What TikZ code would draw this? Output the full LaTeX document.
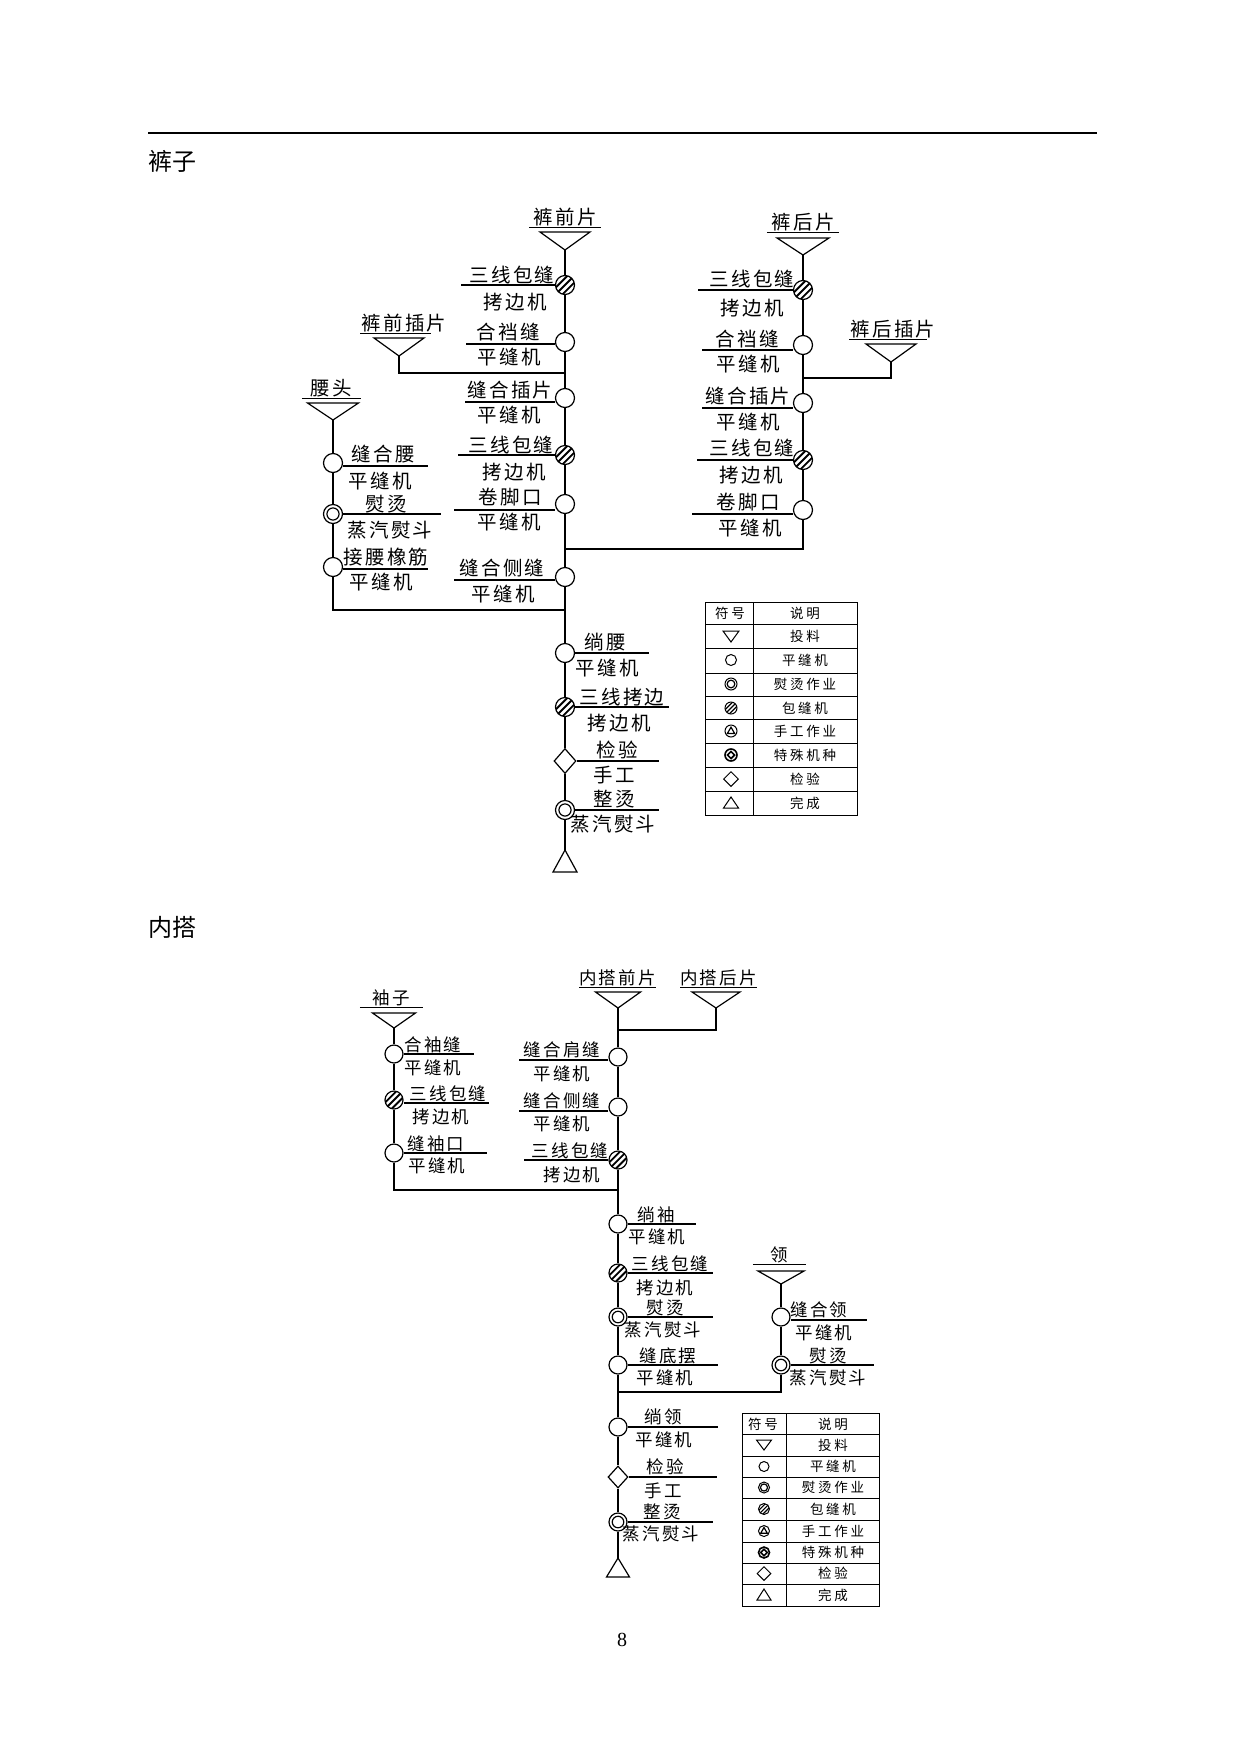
\documentclass[tikz,border=0pt]{standalone}
\usepackage{fontspec}
\setmainfont{Liberation Serif}
\newfontfamily\cjk[LetterSpace=12]{Noto Sans CJK SC}
\newfontfamily\cjkw[LetterSpace=20]{Noto Sans CJK SC}
\newfontfamily\cjkh{Noto Sans CJK SC}
\usetikzlibrary{shapes.geometric,calc}

\tikzset{
  flow/.style={line width=1.2pt},
  uline/.style={line width=1.5pt},
  sew/.style={circle,draw,flow,minimum size=#1,inner sep=0pt},
  sew/.default=19pt,
  iron/.style={sew=#1,path picture={\draw[flow] (path picture bounding box.center) circle[radius=0.32*#1];}},
  iron/.default=19pt,
  ovl/.style={sew=#1,path picture={
    \draw[line width=0.1*#1] (path picture bounding box.south west) -- (path picture bounding box.north east);
    \draw[line width=0.1*#1] ($(path picture bounding box.south west)!0.36!(path picture bounding box.north west)$) -- ($(path picture bounding box.north west)!0.64!(path picture bounding box.north east)$);
    \draw[line width=0.1*#1] ($(path picture bounding box.south west)!0.36!(path picture bounding box.south east)$) -- ($(path picture bounding box.south east)!0.64!(path picture bounding box.north east)$);}},
  ovl/.default=19pt,
  hand/.style={sew=#1,path picture={\draw[flow] ([shift={(0pt,0.32*#1)}]path picture bounding box.center) -- ([shift={(0.3*#1,-0.2*#1)}]path picture bounding box.center) -- ([shift={(-0.3*#1,-0.2*#1)}]path picture bounding box.center) -- cycle;}},
  spec/.style={sew=#1,line width=1.6pt,path picture={\draw[line width=1.6pt] ([shift={(0pt,0.3*#1)}]path picture bounding box.center) -- ([shift={(0.3*#1,0pt)}]path picture bounding box.center) -- ([shift={(0pt,-0.3*#1)}]path picture bounding box.center) -- ([shift={(-0.3*#1,0pt)}]path picture bounding box.center) -- cycle;}},
  chk/.style={diamond,draw,flow,inner sep=0pt,minimum width=22pt,minimum height=25pt},
  lab/.style={font=\cjk\fontsize{19.5}{21}\selectfont,inner sep=0pt},
  labs/.style={font=\cjk\fontsize{17.5}{19}\selectfont,inner sep=0pt},
  src/.style={lab,inner xsep=0pt,inner ysep=1.2pt,minimum width=#1},
  srcs/.style={labs,inner xsep=0pt,inner ysep=1.2pt,minimum width=#1},
  klab/.style={font=\cjkw\fontsize{13.5}{15}\selectfont,inner sep=0pt},
  head/.style={font=\cjkh\fontsize{24}{28}\selectfont,inner sep=0pt},
}

\begin{document}
\begin{tikzpicture}[x=1pt,y=-1pt]
\useasboundingbox (0,0) rectangle (1240,1754);
\draw[flow] (148,133) -- (1097,133);
\node[head] (hkz) at (172,161) {裤子};
\node[head] (hnd) at (172,927) {内搭};
\node[font=\fontsize{20}{22}\selectfont,inner sep=0pt] (pg) at (622,1640) {8};

% 裤前片
\node[src=71pt] (qfl) at (565,217) {裤前片};
\draw[uline] (qfl.south west) -- (qfl.south east);
\coordinate (qfa) at (565,250);
\draw[flow] (qfa) -- ++(-25,-18) -- ++(50,0) -- cycle;
\node[ovl] (qf1) at (565,285) {};
\draw[uline] (qf1.west) -- ++(-93.5,0);
\node[lab] (qf1t) at (512,275) {三线包缝};
\node[lab] (qf1b) at (515,302) {拷边机};
\node[sew] (qf2) at (565,342) {};
\draw[uline] ([yshift=-2pt]qf2.west) -- ++(-88.5,0);
\node[lab] (qf2t) at (508,332) {合裆缝};
\node[lab] (qf2b) at (509,357) {平缝机};
\node[sew] (qf3) at (565,398) {};
\draw[uline] ([yshift=-4pt]qf3.west) -- ++(-89.5,0);
\node[lab] (qf3t) at (510,390) {缝合插片};
\node[lab] (qf3b) at (509,415) {平缝机};
\node[ovl] (qf4) at (565,455) {};
\draw[uline] (qf4.west) -- ++(-96.5,0);
\node[lab] (qf4t) at (511,445) {三线包缝};
\node[lab] (qf4b) at (514,472) {拷边机};
\node[sew] (qf5) at (565,504) {};
\draw[uline] ([yshift=-6pt]qf5.west) -- ++(-100.5,0);
\node[lab] (qf5t) at (510,497) {卷脚口};
\node[lab] (qf5b) at (509,522) {平缝机};
\node[sew] (qf6) at (565,577) {};
\draw[uline] ([yshift=-3pt]qf6.west) -- ++(-100.5,0);
\node[lab] (qf6t) at (502,568) {缝合侧缝};
\node[lab] (qf6b) at (503,594) {平缝机};
\node[sew] (qf7) at (565,653) {};
\draw[uline] (qf7.east) -- ++(73.5,0);
\node[lab] (qf7t) at (605,642) {绱腰};
\node[lab] (qf7b) at (607,668) {平缝机};
\node[ovl] (qf8) at (565,707) {};
\draw[uline] (qf8.east) -- ++(93.5,0);
\node[lab] (qf8t) at (622,697) {三线拷边};
\node[lab] (qf8b) at (619,723) {拷边机};
\node[chk] (qf9) at (565,761) {};
\draw[uline] (qf9.east) -- ++(82,0);
\node[lab] (qf9t) at (617,750) {检验};
\node[lab] (qf9b) at (614,775) {手工};
\node[iron] (qf10) at (565,810) {};
\draw[uline] (qf10.east) -- ++(83.5,0);
\node[lab] (qf10t) at (614,799) {整烫};
\node[lab] (qf10b) at (613,824) {蒸汽熨斗};
\coordinate (qfe) at (565,850);
\draw[flow] (qfe) -- ++(-12,22) -- ++(24,0) -- cycle;
\draw[flow] (qfa) -- (qf1) -- (qf2) -- (qf3) -- (qf4) -- (qf5) -- (qf6) -- (qf7) -- (qf8) -- (qf9) -- (qf10) -- (qfe);
\coordinate (qfj1) at (565,373);
\coordinate (qfj2) at (565,549);
\coordinate (qfj3) at (565,610);

% 裤前插片
\node[src=71pt] (qfcl) at (404,323) {裤前插片};
\draw[uline] ([xshift=-1pt]qfcl.south west) -- ++(71,0);
\coordinate (qfca) at (399,356);
\draw[flow] (qfca) -- ++(-25,-18) -- ++(50,0) -- cycle;
\draw[flow] (qfca) -- (qfca |- qfj1) -- (qfj1);

% 裤后片
\node[src=72pt] (qhl) at (803,222) {裤后片};
\draw[uline] (qhl.south west) -- (qhl.south east);
\coordinate (qha) at (803,255);
\draw[flow] (qha) -- ++(-26,-17) -- ++(52,0) -- cycle;
\node[ovl] (qh1) at (803,290) {};
\draw[uline] (qh1.west) -- ++(-94.5,0);
\node[lab] (qh1t) at (752,279) {三线包缝};
\node[lab] (qh1b) at (752,308) {拷边机};
\node[sew] (qh2) at (803,345) {};
\draw[uline] ([yshift=-5pt]qh2.west) -- ++(-90.5,0);
\node[lab] (qh2t) at (747,339) {合裆缝};
\node[lab] (qh2b) at (748,364) {平缝机};
\node[sew] (qh3) at (803,403) {};
\draw[uline] ([yshift=-5pt]qh3.west) -- ++(-90.5,0);
\node[lab] (qh3t) at (748,396) {缝合插片};
\node[lab] (qh3b) at (748,422) {平缝机};
\node[ovl] (qh4) at (803,460) {};
\draw[uline] (qh4.west) -- ++(-95.5,0);
\node[lab] (qh4t) at (752,448) {三线包缝};
\node[lab] (qh4b) at (751,475) {拷边机};
\node[sew] (qh5) at (803,510) {};
\draw[uline] ([yshift=-4pt]qh5.west) -- ++(-100.5,0);
\node[lab] (qh5t) at (748,502) {卷脚口};
\node[lab] (qh5b) at (750,528) {平缝机};
\draw[flow] (qha) -- (qh1) -- (qh2) -- (qh3) -- (qh4) -- (qh5) -- (qh5 |- qfj2) -- (qfj2);
\coordinate (qhj1) at (803,378);

% 裤后插片
\node[src=78pt] (qhcl) at (893,329) {裤后插片};
\draw[uline] ([xshift=-1pt]qhcl.south west) -- ++(78,0);
\coordinate (qhca) at (891,362);
\draw[flow] (qhca) -- ++(-25,-18) -- ++(50,0) -- cycle;
\draw[flow] (qhca) -- (qhca |- qhj1) -- (qhj1);

% 腰头
\node[src=59pt] (ytl) at (331.5,388) {腰头};
\draw[uline] (ytl.south west) -- (ytl.south east);
\coordinate (yta) at (333,420);
\draw[flow] (yta) -- ++(-25.5,-17) -- ++(51,0) -- cycle;
\node[sew] (yt1) at (333,463) {};
\draw[uline] ([yshift=-3pt]yt1.east) -- ++(84.5,0);
\node[lab] (yt1t) at (383,454) {缝合腰};
\node[lab] (yt1b) at (380,481) {平缝机};
\node[iron] (yt2) at (333,514) {};
\draw[uline] (yt2.east) -- ++(97.5,0);
\node[lab] (yt2t) at (386,504) {熨烫};
\node[lab] (yt2b) at (390,530) {蒸汽熨斗};
\node[sew] (yt3) at (333,567) {};
\draw[uline] ([yshift=-2pt]yt3.east) -- ++(84.5,0);
\node[lab] (yt3t) at (386,557) {接腰橡筋};
\node[lab] (yt3b) at (381,582) {平缝机};
\draw[flow] (yta) -- (yt1) -- (yt2) -- (yt3) -- (yt3 |- qfj3) -- (qfj3);

% 符号说明 (裤子)
\draw[line width=1pt] (705,602) rectangle (857,815);
\draw[line width=1pt] (753,602) -- (753,815);
\foreach \yy in {624,648,673,696,719,743,767,791}
  \draw[line width=1pt] (705,\yy) -- (857,\yy);
\node[klab] (k1h1) at (730,613) {符号};
\node[klab] (k1h2) at (805,613) {说明};
\draw[line width=1pt] (731,642) -- ++(-8,-11) -- ++(16,0) -- cycle;
\node[klab] (k1t1) at (805,636) {投料};
\node[sew=11pt,line width=1pt] (k1s2) at (731,660) {};
\node[klab] (k1t2) at (805,660) {平缝机};
\node[iron=12pt,line width=1pt] (k1s3) at (731,684) {};
\node[klab] (k1t3) at (805,684) {熨烫作业};
\node[ovl=12pt,line width=1pt] (k1s4) at (731,708) {};
\node[klab] (k1t4) at (805,708) {包缝机};
\node[hand=12pt,line width=1pt] (k1s5) at (731,731) {};
\node[klab] (k1t5) at (805,731) {手工作业};
\node[spec=12pt] (k1s6) at (731,755) {};
\node[klab] (k1t6) at (805,755) {特殊机种};
\node[chk,minimum width=15pt,minimum height=15pt,line width=1pt] (k1s7) at (731,779) {};
\node[klab] (k1t7) at (805,779) {检验};
\draw[line width=1pt] (731,797) -- ++(-7.5,11) -- ++(15,0) -- cycle;
\node[klab] (k1t8) at (805,803) {完成};

% 内搭前片
\node[srcs=69pt] (nql) at (617.5,978) {内搭前片};
\draw[uline] (nql.south west) -- (nql.south east);
\coordinate (nqa) at (618,1008);
\draw[flow] (nqa) -- ++(-22.5,-16) -- ++(45,0) -- cycle;
\node[sew=18pt] (nq1) at (618,1057) {};
\draw[uline] ([yshift=-3pt]nq1.west) -- ++(-89,0);
\node[labs] (nq1t) at (562,1050) {缝合肩缝};
\node[labs] (nq1b) at (562,1074) {平缝机};
\node[sew=18pt] (nq2) at (618,1107) {};
\draw[uline] ([yshift=-4pt]nq2.west) -- ++(-89,0);
\node[labs] (nq2t) at (562,1101) {缝合侧缝};
\node[labs] (nq2b) at (562,1124) {平缝机};
\node[ovl=18pt] (nq3) at (618,1160) {};
\draw[uline] (nq3.west) -- ++(-84,0);
\node[labs] (nq3t) at (570,1151) {三线包缝};
\node[labs] (nq3b) at (572,1175) {拷边机};
\node[sew=18pt] (nq4) at (618,1224) {};
\draw[uline] (nq4.east) -- ++(68,0);
\node[labs] (nq4t) at (656,1215) {绱袖};
\node[labs] (nq4b) at (657,1237) {平缝机};
\node[ovl=18pt] (nq5) at (618,1273) {};
\draw[uline] (nq5.east) -- ++(85,0);
\node[labs] (nq5t) at (670,1264) {三线包缝};
\node[labs] (nq5b) at (665,1288) {拷边机};
\node[iron=18pt] (nq6) at (618,1317) {};
\draw[uline] (nq6.east) -- ++(85,0);
\node[labs] (nq6t) at (665,1308) {熨烫};
\node[labs] (nq6b) at (663,1330) {蒸汽熨斗};
\node[sew=18pt] (nq7) at (618,1365) {};
\draw[uline] (nq7.east) -- ++(90,0);
\node[labs] (nq7t) at (668,1356) {缝底摆};
\node[labs] (nq7b) at (665,1378) {平缝机};
\node[sew=18pt] (nq8) at (618,1427) {};
\draw[uline] (nq8.east) -- ++(90,0);
\node[labs] (nq8t) at (663,1417) {绱领};
\node[labs] (nq8b) at (664,1440) {平缝机};
\node[chk,minimum width=20pt,minimum height=22pt] (nq9) at (618,1477) {};
\draw[uline] (nq9.east) -- ++(88,0);
\node[labs] (nq9t) at (665,1467) {检验};
\node[labs] (nq9b) at (663,1491) {手工};
\node[iron=18pt] (nq10) at (618,1522) {};
\draw[uline] (nq10.east) -- ++(85,0);
\node[labs] (nq10t) at (662,1512) {整烫};
\node[labs] (nq10b) at (661,1534) {蒸汽熨斗};
\coordinate (nqe) at (618,1558);
\draw[flow] (nqe) -- ++(-11.5,19) -- ++(23,0) -- cycle;
\draw[flow] (nqa) -- (nq1) -- (nq2) -- (nq3) -- (nq4) -- (nq5) -- (nq6) -- (nq7) -- (nq8) -- (nq9) -- (nq10) -- (nqe);
\coordinate (nqj1) at (618,1030);
\coordinate (nqj2) at (618,1190);
\coordinate (nqj3) at (618,1392);

% 内搭后片
\node[srcs=73pt] (nhl) at (718.5,978) {内搭后片};
\draw[uline] (nhl.south west) -- (nhl.south east);
\coordinate (nha) at (716,1008);
\draw[flow] (nha) -- ++(-24,-16) -- ++(48,0) -- cycle;
\draw[flow] (nha) -- (nha |- nqj1) -- (nqj1);

% 袖子
\node[srcs=63pt] (xzl) at (391.5,998) {袖子};
\draw[uline] (xzl.south west) -- (xzl.south east);
\coordinate (xza) at (394,1028);
\draw[flow] (xza) -- ++(-21.5,-15) -- ++(43,0) -- cycle;
\node[sew=18pt] (xz1) at (394,1054) {};
\draw[uline] (xz1.east) -- ++(70,0);
\node[labs] (xz1t) at (433,1045) {合袖缝};
\node[labs] (xz1b) at (433,1068) {平缝机};
\node[ovl=18pt] (xz2) at (394,1100) {};
\draw[uline] ([yshift=-3pt]xz2.east) -- ++(85,0);
\node[labs] (xz2t) at (448,1094) {三线包缝};
\node[labs] (xz2b) at (441,1117) {拷边机};
\node[sew=18pt] (xz3) at (394,1153) {};
\draw[uline] (xz3.east) -- ++(83,0);
\node[labs] (xz3t) at (436,1144) {缝袖口};
\node[labs] (xz3b) at (437,1166) {平缝机};
\draw[flow] (xza) -- (xz1) -- (xz2) -- (xz3) -- (xz3 |- nqj2) -- (nqj2);

% 领
\node[srcs=53pt] (ldl) at (779.5,1255) {领};
\draw[uline] (ldl.south west) -- (ldl.south east);
\coordinate (lda) at (781,1284);
\draw[flow] (lda) -- ++(-23,-13) -- ++(46,0) -- cycle;
\node[sew=18pt] (ld1) at (781,1317) {};
\draw[uline] ([yshift=-3pt]ld1.east) -- ++(76,0);
\node[labs] (ld1t) at (819,1310) {缝合领};
\node[labs] (ld1b) at (824,1333) {平缝机};
\node[iron=18pt] (ld2) at (781,1365) {};
\draw[uline] (ld2.east) -- ++(83,0);
\node[labs] (ld2t) at (828,1356) {熨烫};
\node[labs] (ld2b) at (828,1378) {蒸汽熨斗};
\draw[flow] (lda) -- (ld1) -- (ld2) -- (ld2 |- nqj3) -- (nqj3);

% 符号说明 (内搭)
\draw[line width=1pt] (742,1413) rectangle (879,1606);
\draw[line width=1pt] (786,1413) -- (786,1606);
\foreach \yy in {1434,1456,1477,1498,1520,1542,1563,1584}
  \draw[line width=1pt] (742,\yy) -- (879,\yy);
\node[klab] (k2h1) at (763,1424) {符号};
\node[klab] (k2h2) at (833,1424) {说明};
\draw[line width=1pt] (764,1450) -- ++(-7.5,-10) -- ++(15,0) -- cycle;
\node[klab] (k2t1) at (833,1445) {投料};
\node[sew=10pt,line width=1pt] (k2s2) at (764,1466.5) {};
\node[klab] (k2t2) at (833,1466.5) {平缝机};
\node[iron=11pt,line width=1pt] (k2s3) at (764,1487.5) {};
\node[klab] (k2t3) at (833,1487.5) {熨烫作业};
\node[ovl=11pt,line width=1pt] (k2s4) at (764,1509) {};
\node[klab] (k2t4) at (833,1509) {包缝机};
\node[hand=11pt,line width=1pt] (k2s5) at (764,1531) {};
\node[klab] (k2t5) at (833,1531) {手工作业};
\node[spec=11pt] (k2s6) at (764,1552.5) {};
\node[klab] (k2t6) at (833,1552.5) {特殊机种};
\node[chk,minimum width=14pt,minimum height=14pt,line width=1pt] (k2s7) at (764,1573.5) {};
\node[klab] (k2t7) at (833,1573.5) {检验};
\draw[line width=1pt] (764,1589) -- ++(-7,11) -- ++(14,0) -- cycle;
\node[klab] (k2t8) at (833,1595) {完成};
\end{tikzpicture}
\end{document}
